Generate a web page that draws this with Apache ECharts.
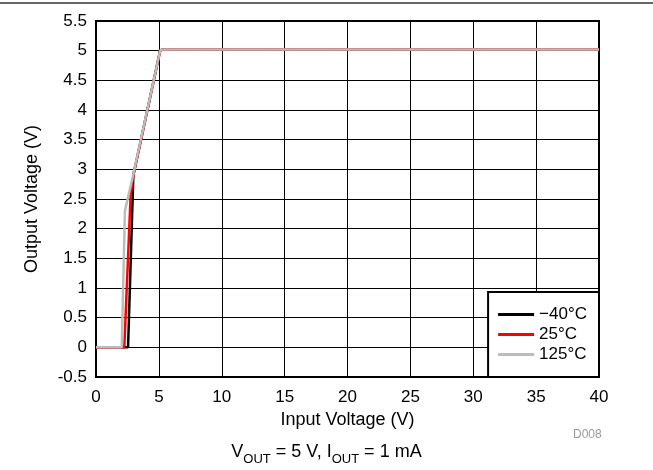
<!DOCTYPE html>
<html><head><meta charset="utf-8">
<script src="https://cdn.jsdelivr.net/npm/echarts@6/dist/echarts.min.js"></script>
<style>html,body{margin:0;padding:0;background:#fff}#c{width:653px;height:470px}</style>
</head><body><div id="c"></div>
<script>
var seriesNames = ['\u221240\u00b0C', '25\u00b0C', '125\u00b0C'];
var seriesColors = ['#000000', '#ff0000', '#bcbcbc'];
var blackX = [0, 2.55, 2.97, 5.1, 5.3, 40];
var blackY = [0, 0, 2.9, 5.0, 5.02, 5.02];
var redX = [0, 2.25, 2.75, 2.97, 5.1, 5.3, 40];
var redY = [0, 0, 2.55, 2.9, 5.0, 5.02, 5.02];
var grayX = [0, 2.05, 2.3, 2.97, 5.1, 5.3, 40];
var grayY = [0, 0, 2.3, 2.92, 5.0, 5.02, 5.02];
var xTicks = [0, 5, 10, 15, 20, 25, 30, 35, 40];
var yTicks = [-0.5, 0, 0.5, 1, 1.5, 2, 2.5, 3, 3.5, 4, 4.5, 5, 5.5];

function pairs(xs, ys) { return xs.map(function (x, i) { return [x, ys[i]]; }); }
var allData = [pairs(blackX, blackY), pairs(redX, redY), pairs(grayX, grayY)];

var chart = echarts.init(document.getElementById('c'), null, {renderer: 'canvas'});
var font = 'Liberation Sans, Arial, sans-serif';
chart.setOption({
  animation: false,
  backgroundColor: '#fff',
  textStyle: {fontFamily: font},
  grid: {left: 96, right: 54, top: 21, bottom: 93, show: true, borderColor: '#000', borderWidth: 2, backgroundColor: 'transparent'},
  xAxis: {
    type: 'value', min: xTicks[0], max: xTicks[xTicks.length - 1], interval: 5,
    name: 'Input Voltage (V)', nameLocation: 'middle', nameGap: 32,
    nameTextStyle: {color: '#000', fontSize: 18, fontFamily: font},
    axisLine: {show: false}, axisTick: {show: false},
    axisLabel: {color: '#000', fontSize: 17, margin: 12, fontFamily: font},
    splitLine: {show: true, lineStyle: {color: '#000', width: 1}}
  },
  yAxis: {
    type: 'value', min: yTicks[0], max: yTicks[yTicks.length - 1], interval: 0.5,
    name: 'Output Voltage (V)', nameLocation: 'middle', nameGap: 55,
    nameTextStyle: {color: '#000', fontSize: 18, fontFamily: font},
    axisLine: {show: false}, axisTick: {show: false},
    axisLabel: {color: '#000', fontSize: 17, margin: 9, fontFamily: font},
    splitLine: {show: true, lineStyle: {color: '#000', width: 1}}
  },
  legend: {
    orient: 'vertical', right: 54, bottom: 93,
    backgroundColor: '#fff', borderColor: '#000', borderWidth: 2,
    padding: [14, 12, 14, 10], itemGap: 3, itemWidth: 36, itemHeight: 3,
    icon: 'rect',
    textStyle: {color: '#000', fontSize: 17, fontFamily: font},
    data: seriesNames
  },
  title: [{
    text: '{n|V}{s|OUT}{n| = 5 V, I}{s|OUT}{n| = 1 mA}',
    left: 'center', top: 438,
    textStyle: {fontWeight: 'normal', rich: {
      n: {fontSize: 18, color: '#000', fontFamily: font, fontWeight: 'normal', verticalAlign: 'bottom'},
      s: {fontSize: 13, color: '#000', fontFamily: font, fontWeight: 'normal', verticalAlign: 'bottom', padding: [0, 0, -5, 0]}
    }}
  }, {
    text: 'D008', left: 568, top: 424,
    textStyle: {fontSize: 12, color: '#999', fontWeight: 'normal', fontFamily: font}
  }],
  graphic: [{type: 'line', shape: {x1: 0, y1: 3, x2: 653, y2: 3}, style: {stroke: '#333', lineWidth: 1.5}}],
  series: allData.map(function (d, i) {
    return {
      name: seriesNames[i], type: 'line', data: d, showSymbol: false, symbol: 'none',
      lineStyle: {color: seriesColors[i], width: 2.5}, itemStyle: {color: seriesColors[i]},
      z: 3 + i
    };
  })
});
</script></body></html>
